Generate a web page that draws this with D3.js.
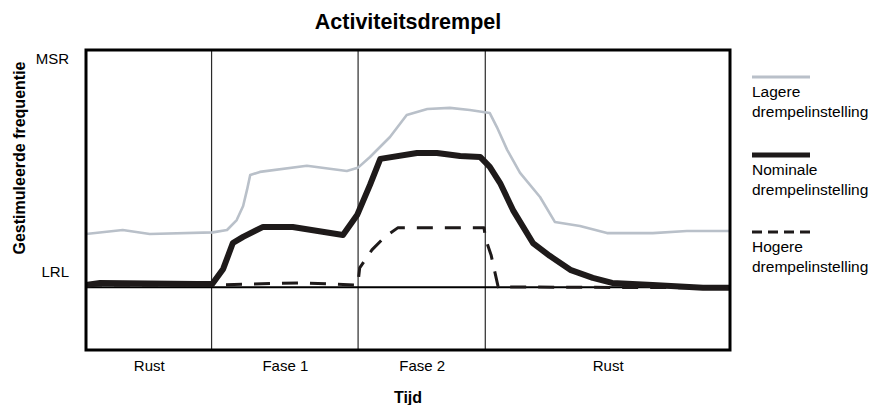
<!DOCTYPE html>
<html>
<head>
<meta charset="utf-8">
<script src="https://cdn.jsdelivr.net/npm/d3@7"></script>
<style>
  html, body { margin: 0; padding: 0; background: #ffffff; }
  svg { display: block; font-family: "Liberation Sans", Arial, Helvetica, sans-serif; }
</style>
</head>
<body>
<svg id="chart" width="871" height="405"></svg>
<script>
// Time axis (arbitrary units 0..100) and stimulated rate relative to LRL (0) and MSR.
const phaseNames = ["Rust", "Fase 1", "Fase 2", "Rust"];
const phaseBounds = [0, 19.5, 42.25, 62, 100];

const rateTickValues = [90, 0];
const rateTickLabels = ["MSR", "LRL"];

// Lagere drempelinstelling
const lowTime = [0, 5.7, 9.9, 19.7, 21.9, 23.4, 24.4, 25.0, 25.5, 27.0, 34.3, 40.5, 42.2, 44.1, 47.2, 49.8, 53.0, 56.5, 59.6, 62.7, 63.8, 65.4, 67.4, 70.5, 72.8, 76.7, 80.9, 88.0, 93.3, 100];
const lowRate = [22.4, 24.1, 22.4, 23.1, 24.1, 28.3, 34.2, 41.0, 47.3, 48.6, 51.2, 49.0, 50.3, 54.9, 63.3, 72.6, 75.1, 75.6, 74.7, 73.4, 67.5, 57.9, 48.2, 38.0, 27.5, 25.8, 22.8, 22.8, 23.7, 23.7];

// Nominale drempelinstelling
const nomTime = [0, 2.2, 17.2, 19.6, 21.3, 22.8, 24.4, 27.5, 32.1, 39.9, 42.1, 44.1, 45.7, 51.4, 54.5, 58.1, 61.2, 62.7, 64.3, 66.3, 69.4, 72.0, 75.2, 78.7, 81.7, 88.0, 95.8, 100];
const nomRate = [0.9, 1.8, 1.3, 1.3, 7.7, 18.6, 21.2, 25.4, 25.4, 22.0, 30.4, 43.1, 54.1, 56.6, 56.6, 55.3, 54.9, 50.7, 43.9, 32.5, 18.6, 13.2, 7.3, 3.9, 1.8, 0.9, -0.3, -0.3];

// Hogere drempelinstelling
const highTime = [0, 19.7, 33.2, 42.2, 42.5, 44.4, 46.4, 48.4, 61.8, 62.1, 62.9, 64.0, 100];
const highRate = [0.9, 0.9, 1.8, 0.9, 8.1, 15.7, 21.2, 25.0, 25.0, 19.9, 13.6, 0.1, -0.3];

const legendLabels = [["Lagere", "drempelinstelling"], ["Nominale", "drempelinstelling"], ["Hogere", "drempelinstelling"]];

const titleText = "Activiteitsdrempel";
const yTitle = "Gestimuleerde frequentie";
const xTitle = "Tijd";

const styles = [
  { color: "#b9c0c9", width: 2.6, dash: null, legendDash: null, legendWidth: 3 },
  { color: "#1e1a1a", width: 6, dash: null, legendDash: null, legendWidth: 5 },
  { color: "#1e1a1a", width: 3, dash: "16,12", legendDash: "10,6", legendWidth: 3 }
];

const svg = d3.select("#chart");
const plot = { left: 86, right: 730, top: 50, bottom: 350 };

const x = d3.scaleLinear().domain([0, 100]).range([plot.left, plot.right]);
const y = d3.scaleLinear().domain([-26.5, 100]).range([plot.bottom, plot.top]);

// Title
svg.append("text")
  .attr("x", 408).attr("y", 29)
  .attr("text-anchor", "middle")
  .attr("font-weight", "bold")
  .attr("font-size", 21.5)
  .text(titleText);

// Phase separators
svg.append("g").selectAll("line")
  .data(phaseBounds.slice(1, -1))
  .join("line")
  .attr("x1", d => x(d)).attr("x2", d => x(d))
  .attr("y1", plot.top).attr("y2", plot.bottom)
  .attr("stroke", "#2a2a2a").attr("stroke-width", 1.2);

// LRL reference line
svg.append("line")
  .attr("x1", plot.left).attr("x2", plot.right)
  .attr("y1", y(0)).attr("y2", y(0))
  .attr("stroke", "#000").attr("stroke-width", 2);

// Series
const series = [
  { t: lowTime, v: lowRate, s: styles[0] },
  { t: highTime, v: highRate, s: styles[2] },
  { t: nomTime, v: nomRate, s: styles[1] }
];
const line = d3.line().x(d => x(d[0])).y(d => y(d[1]));
series.forEach(sr => {
  svg.append("path")
    .datum(d3.zip(sr.t, sr.v))
    .attr("d", line)
    .attr("fill", "none")
    .attr("stroke", sr.s.color)
    .attr("stroke-width", sr.s.width)
    .attr("stroke-linejoin", "round")
    .attr("stroke-dasharray", sr.s.dash);
});

// Frame
svg.append("rect")
  .attr("x", plot.left).attr("y", plot.top)
  .attr("width", plot.right - plot.left).attr("height", plot.bottom - plot.top)
  .attr("fill", "none").attr("stroke", "#000").attr("stroke-width", 3);

// Y axis: MSR / LRL, labels sit just above their level
const yAxis = d3.axisLeft(y)
  .tickValues(rateTickValues)
  .tickFormat((d, i) => rateTickLabels[i])
  .tickSize(0).tickPadding(17);
const gy = svg.append("g").attr("transform", `translate(${plot.left},0)`).call(yAxis);
gy.select(".domain").remove();
gy.selectAll("text")
  .attr("font-size", 15).attr("font-family", null)
  .attr("fill", "#000").attr("dominant-baseline", "central")
  .attr("dy", -16);

// X axis: phase names centred in their intervals
const mids = phaseNames.map((_, i) => (phaseBounds[i] + phaseBounds[i + 1]) / 2);
const xAxis = d3.axisBottom(x)
  .tickValues(mids)
  .tickFormat((d, i) => phaseNames[i])
  .tickSize(0).tickPadding(10);
const gx = svg.append("g").attr("transform", `translate(0,${plot.bottom})`).call(xAxis);
gx.select(".domain").remove();
gx.selectAll("text").attr("font-size", 15).attr("font-family", null).attr("fill", "#000");

// Axis titles
svg.append("text")
  .attr("transform", "translate(25,158) rotate(-90)")
  .attr("text-anchor", "middle")
  .attr("font-weight", "bold").attr("font-size", 16)
  .text(yTitle);
svg.append("text")
  .attr("x", 408).attr("y", 403)
  .attr("text-anchor", "middle")
  .attr("font-weight", "bold").attr("font-size", 16)
  .text(xTitle);

// Legend
const legendRows = [77, 155, 232];
const leg = svg.append("g");
legendLabels.forEach((lbl, i) => {
  const st = styles[i];
  const ly = legendRows[i];
  leg.append("line")
    .attr("x1", 752).attr("x2", 810)
    .attr("y1", ly).attr("y2", ly)
    .attr("stroke", st.color)
    .attr("stroke-width", st.legendWidth)
    .attr("stroke-dasharray", st.legendDash);
  lbl.forEach((t, j) => {
    leg.append("text")
      .attr("x", 752).attr("y", ly + 20 + j * 20)
      .attr("font-size", 15.5)
      .text(t);
  });
});
</script>
</body>
</html>
